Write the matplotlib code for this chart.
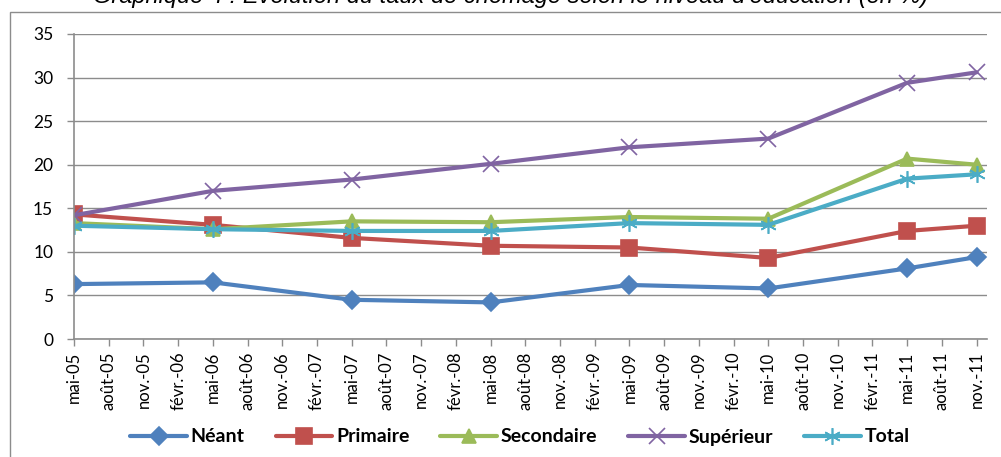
import matplotlib
matplotlib.use("Agg")
import matplotlib.pyplot as plt
from matplotlib.patches import Rectangle

# months since mai-05
months = [0, 12, 24, 36, 48, 60, 72, 78]
neant = [6.3, 6.5, 4.5, 4.2, 6.2, 5.8, 8.1, 9.4]
primaire = [14.3, 13.1, 11.6, 10.7, 10.5, 9.3, 12.4, 13.0]
secondaire = [13.3, 12.6, 13.5, 13.4, 14.0, 13.8, 20.7, 20.0]
superieur = [14.2, 17.0, 18.3, 20.1, 22.0, 23.0, 29.4, 30.6]
total = [13.0, 12.6, 12.4, 12.4, 13.3, 13.1, 18.4, 18.9]

tick_labels = ['mai-05', 'août-05', 'nov.-05', 'févr.-06',
               'mai-06', 'août-06', 'nov.-06', 'févr.-07',
               'mai-07', 'août-07', 'nov.-07', 'févr.-08',
               'mai-08', 'août-08', 'nov.-08', 'févr.-09',
               'mai-09', 'août-09', 'nov.-09', 'févr.-10',
               'mai-10', 'août-10', 'nov.-10', 'févr.-11',
               'mai-11', 'août-11', 'nov.-11']

W, H = 1001, 457
fig = plt.figure(figsize=(W / 100, H / 100), dpi=100)

# chart area border (left and top visible)
fig.patches.append(Rectangle((10 / W, -0.1), 1.2, 1 - 12 / H + 0.1,
                             transform=fig.transFigure, fill=False,
                             edgecolor='#8c8c8c', linewidth=1.0))

fig.text(511 / W, 1 - 3 / H,
         "Graphique 4 : Evolution du taux de chômage selon le niveau d'éducation (en %)",
         ha='center', va='baseline', fontsize=17, style='italic',
         family='Liberation Sans')

ax = fig.add_axes([74 / W, 1 - 339 / H, (987 - 74) / W, (339 - 34) / H])

series = [
    ('Néant', neant, '#4F81BD', 'D', 9),
    ('Primaire', primaire, '#C0504D', 's', 11),
    ('Secondaire', secondaire, '#9BBB59', '^', 10),
    ('Supérieur', superieur, '#8064A2', 'x', 11),
    ('Total', total, '#4BACC6', (6, 2, 0), 12),
]
for name, vals, col, mk, ms in series:
    ax.plot(months, vals, color=col, linewidth=3, marker=mk, markersize=ms,
            markeredgecolor=col, markerfacecolor=col, markeredgewidth=1.2,
            label=name, solid_joinstyle='round', solid_capstyle='round')

ax.set_xlim(0, 78.9)
ax.set_ylim(0, 35)
ax.set_yticks(range(0, 36, 5))
ax.set_xticks(range(0, 79, 3))
ax.set_xticklabels(tick_labels, rotation=90, fontsize=12, family='Lato')
for lab in ax.get_yticklabels():
    lab.set_fontsize(12.5)
    lab.set_family('Lato')
ax.yaxis.grid(True, color='#8c8c8c', linewidth=1.0)
ax.set_axisbelow(True)
for s in ['top', 'right']:
    ax.spines[s].set_visible(False)
for s in ['left', 'bottom']:
    ax.spines[s].set_color('#8c8c8c')
    ax.spines[s].set_linewidth(1.2)
ax.tick_params(axis='both', color='#8c8c8c', length=5, width=1, pad=4)
ax.tick_params(axis='y', pad=10)

leg = fig.legend(loc='center', bbox_to_anchor=(520 / W, 1 - 437 / H), ncol=5,
                 frameon=False, handlelength=2.9, columnspacing=1.6,
                 handletextpad=0.2,
                 prop={'family': 'Lato', 'weight': 'bold', 'size': 14})

fig.savefig('out.png', dpi=100)
